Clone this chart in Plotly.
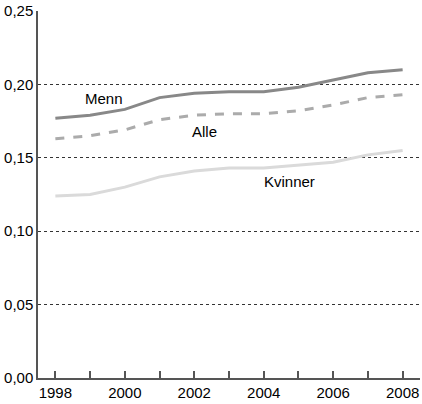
import plotly.graph_objects as go

years = list(range(1998, 2009))
menn = [0.177, 0.179, 0.183, 0.191, 0.194, 0.195, 0.195, 0.198, 0.203, 0.208, 0.210]
alle = [0.163, 0.165, 0.169, 0.176, 0.179, 0.180, 0.180, 0.182, 0.186, 0.191, 0.193]
kvinner = [0.124, 0.125, 0.130, 0.137, 0.141, 0.143, 0.143, 0.145, 0.147, 0.152, 0.155]

year_labels = [str(y) if y % 2 == 0 else "" for y in years]
y_ticks = [0, 0.05, 0.10, 0.15, 0.20, 0.25]

fig = go.Figure()

fig.add_trace(go.Scatter(x=years, y=kvinner, mode="lines", name="Kvinner",
                         line=dict(color="#dadada", width=3)))
fig.add_trace(go.Scatter(x=years, y=alle, mode="lines", name="Alle",
                         line=dict(color="#ababab", width=3, dash="dash")))
fig.add_trace(go.Scatter(x=years, y=menn, mode="lines", name="Menn",
                         line=dict(color="#888888", width=3)))

# series labels placed next to the lines
fig.add_annotation(x=1999.4, y=0.1905, text="Menn", showarrow=False)
fig.add_annotation(x=2002.3, y=0.168, text="Alle", showarrow=False)
fig.add_annotation(x=2004.75, y=0.134, text="Kvinner", showarrow=False)

fig.update_layout(
    width=422, height=404,
    margin=dict(l=38, r=2, t=9, b=26),
    paper_bgcolor="white", plot_bgcolor="white",
    showlegend=False,
    separators=",.",
    font=dict(family="Liberation Sans", size=15, color="black"),
)

fig.update_xaxes(
    range=[1997.5, 2008.5],
    tickvals=years, ticktext=year_labels,
    ticks="inside", ticklen=7, tickwidth=2, tickcolor="#555555",
    showline=True, linecolor="#555555", linewidth=1.5,
    showgrid=False, zeroline=False,
    tickfont=dict(size=15),
)
fig.update_yaxes(
    range=[0, 0.25],
    tickvals=y_ticks, tickformat=".2f",
    showline=True, linecolor="#555555", linewidth=1.5,
    showgrid=True, gridcolor="#333333", gridwidth=1, griddash="dot",
    zeroline=False, ticks="",
    tickfont=dict(size=15),
)

# page body has a default margin; drop it so the figure fills the window
fig.write_html("out.html", config={"displayModeBar": False},
               post_script="document.body.style.margin='0';")
